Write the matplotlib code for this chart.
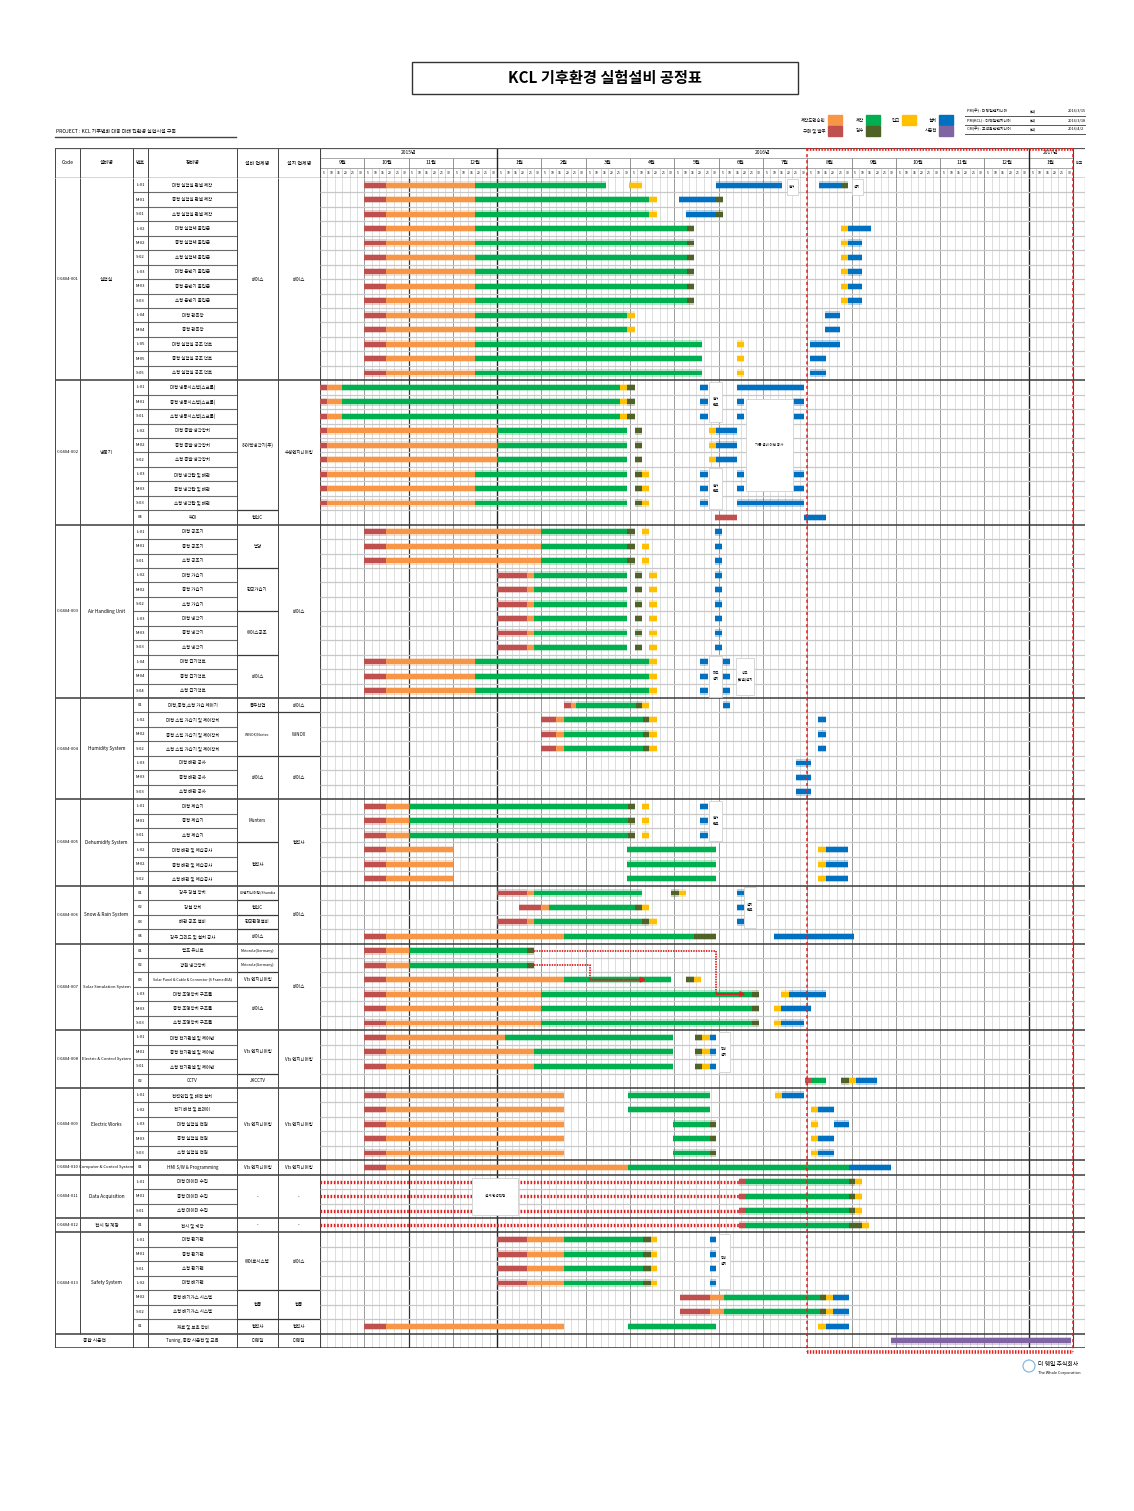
import numpy as np
import matplotlib.pyplot as plt
from matplotlib.patches import Rectangle, Circle

plt.rcParams['font.family'] = ['Noto Sans CJK KR', 'DejaVu Sans']

W, H = 1134, 1511

# 공정 단계 색상
phase_color = {'P': '#c0504d', 'D': '#f79646', 'M': '#00b050', 'I': '#4f6228',
               'R': '#ffc000', 'S': '#0070c0', 'T': '#8064a2'}
legend_labels = [('제작도면승인', 'D'), ('구매 및 발주', 'P'), ('제작', 'M'), ('검수', 'I'),
                 ('입고', 'R'), ('설치', 'S'), ('시운전', 'T')]

# 일정 축 (5일 단위)
years = ['2015년', '2016년', '2017년']
year_months = [4, 12, 1]
months = ['9월', '10월', '11월', '12월', '1월', '2월', '3월', '4월', '5월', '6월', '7월',
          '8월', '9월', '10월', '11월', '12월', '1월']
days = ['5', '10', '15', '20', '25', '30']

# 설비 그룹
group_codes = ['C-0404-001', 'C-0404-002', 'C-0404-003', 'C-0404-004', 'C-0404-005',
               'C-0404-006', 'C-0404-007', 'C-0404-008', 'C-0404-009', 'C-0404-010',
               'C-0404-011', 'C-0404-012', 'C-0404-013', '']
group_names = ['실험실', '냉동기', 'Air Handling Unit', 'Humidity System', 'Dehumidify System',
               'Snow & Rain System', 'Solar Simulation System', 'Electric & Control System',
               'Electric Works', 'Computer & Control System', 'Data Acquisition', '전시 및 계장',
               'Safety System', '종합 시운전']
group_sizes = [14, 10, 12, 7, 6, 4, 6, 4, 5, 1, 3, 1, 7, 1]

row_nos = ['L-01', 'M-01', 'S-01', 'L-02', 'M-02', 'S-02', 'L-03', 'M-03', 'S-03', 'L-04', 'M-04', 'L-05', 'M-05', 'S-05',
           'L-01', 'M-01', 'S-01', 'L-02', 'M-02', 'S-02', 'L-03', 'M-03', 'S-03', '04',
           'L-01', 'M-01', 'S-01', 'L-02', 'M-02', 'S-02', 'L-03', 'M-03', 'S-03', 'L-04', 'M-04', 'S-04',
           '01', 'L-02', 'M-02', 'S-02', 'L-03', 'M-03', 'S-03',
           'L-01', 'M-01', 'S-01', 'L-02', 'M-02', 'S-02',
           '01', '02', '03', '04',
           '01', '02', '03', 'L-03', 'M-03', 'S-03',
           'L-01', 'M-01', 'S-01', '02',
           'L-01', 'L-02', 'L-03', 'M-03', 'S-03',
           '01',
           'L-01', 'M-01', 'S-01',
           '01',
           'L-01', 'M-01', 'S-01', 'L-02', 'M-02', 'S-02', '01',
           '']
row_names = ['대형 실험실 판넬 제작', '중형 실험실 판넬 제작', '소형 실험실 판넬 제작',
             '대형 실험체 출입문', '중형 실험체 출입문', '소형 실험체 출입문',
             '대형 운반기 출입문', '중형 운반기 출입문', '소형 운반기 출입문',
             '대형 관측창', '중형 관측창',
             '대형 실험실 공조 덕트', '중형 실험실 공조 덕트', '소형 실험실 공조 덕트',
             '대형 냉동시스템(스크롤)', '중형 냉동시스템(스크롤)', '소형 냉동시스템(스크롤)',
             '대형 증발 냉각장치', '중형 증발 냉각장치', '소형 증발 냉각장치',
             '대형 냉각탑 및 배관', '중형 냉각탑 및 배관', '소형 냉각탑 및 배관', '부대',
             '대형 공조기', '중형 공조기', '소형 공조기', '대형 가습기', '중형 가습기', '소형 가습기',
             '대형 냉각기', '중형 냉각기', '소형 냉각기', '대형 급기덕트', '중형 급기덕트', '소형 급기덕트',
             '대형,중형,소형 가습 제어기', '대형 스팀 가습기 및 제어장치', '중형 스팀 가습기 및 제어장치',
             '소형 스팀 가습기 및 제어장치', '대형 배관 공사', '중형 배관 공사', '소형 배관 공사',
             '대형 제습기', '중형 제습기', '소형 제습기',
             '대형 배관 및 제습공사', '중형 배관 및 제습공사', '소형 배관 및 제습공사',
             '강우 강설 장치', '강설 장치', '배관 공조 설비', '강우 그리드 및 설치 공사',
             '램프 유니트', '광원 냉각장치', 'Solar Panel & Cable & Connector (6 Frame 4EA)',
             '대형 조명장치 구조물', '중형 조명장치 구조물', '소형 조명장치 구조물',
             '대형 전기판넬 및 제어반', '중형 전기판넬 및 제어반', '소형 전기판넬 및 제어반', 'CCTV',
             '전력인입 및 배전 설치', '전기 배선 및 트레이', '대형 실험실 전원', '중형 실험실 전원', '소형 실험실 전원',
             'HMI S/W & Programming',
             '대형 데이터 수집', '중형 데이터 수집', '소형 데이터 수집',
             '전시 및 계장',
             '대형 환기팬', '중형 환기팬', '소형 환기팬', '대형 배기팬',
             '중형 배기가스 시스템', '소형 배기가스 시스템', '재료 및 보호 장비',
             'Tuning, 종합 시운전 및 교육']

# (시작 행, 행 수, 업체명)
vendor_spans = [(0, 14, '베이스'), (14, 9, '하이텍냉각기(주)'), (23, 1, '협신C'),
                (24, 3, '범양'), (27, 3, '한국가습기'), (30, 3, '에이스공조'), (33, 3, '베이스'),
                (36, 1, '동우산업'), (37, 3, 'WINOX/Nortec'), (40, 3, '베이스'),
                (43, 3, 'Munters'), (46, 3, '협력사'),
                (49, 1, 'LX엔지니어링/Shandia'), (50, 1, '협신C'), (51, 1, '한국환경설비'), (52, 1, '베이스'),
                (53, 1, 'Motorola(Germany)'), (54, 1, 'Motorola(Germany)'), (55, 1, 'Vts 엔지니어링'), (56, 3, '베이스'),
                (59, 3, 'Vts 엔지니어링'), (62, 1, 'JKCCTV'), (63, 5, 'Vts 엔지니어링'), (68, 1, 'Vts 엔지니어링'),
                (69, 3, '-'), (72, 1, '-'), (73, 4, '에어로시스템'), (77, 2, '협동'), (79, 1, '협력사'),
                (80, 1, '더웨일')]
installer_spans = [(0, 14, '베이스'), (14, 10, '수성엔지니어링'), (24, 12, '베이스'),
                   (36, 1, '베이스'), (37, 3, 'WINOX'), (40, 3, '베이스'), (43, 6, '협력사'),
                   (49, 4, '베이스'), (53, 6, '베이스'), (59, 4, 'Vts 엔지니어링'), (63, 5, 'Vts 엔지니어링'),
                   (68, 1, 'Vts 엔지니어링'), (69, 3, '-'), (72, 1, '-'), (73, 4, '베이스'),
                   (77, 2, '협동'), (79, 1, '협력사'), (80, 1, '더웨일')]

# 행별 공정 (시작, 끝, 단계) - 단위: 5일 (2015.9.1 = 0)
segments = [
    [(6, 9, 'P'), (9, 21, 'D'), (21, 38.8, 'M'), (41.8, 43.6, 'R'), (53.6, 62.6, 'S'), (67.6, 70.6, 'S'), (70.6, 71.5, 'I')],
    [(6, 9, 'P'), (9, 21, 'D'), (21, 44.6, 'M'), (44.6, 45.6, 'R'), (48.6, 53.6, 'S'), (53.6, 54.6, 'I')],
    [(6, 9, 'P'), (9, 21, 'D'), (21, 44.6, 'M'), (44.6, 45.6, 'R'), (49.6, 53.6, 'S'), (53.6, 54.6, 'I')],
    [(6, 9, 'P'), (9, 21, 'D'), (21, 49.7, 'M'), (49.7, 50.6, 'I'), (70.6, 71.5, 'R'), (71.5, 74.6, 'S')],
    [(6, 9, 'P'), (9, 21, 'D'), (21, 49.7, 'M'), (49.7, 50.6, 'I'), (70.6, 71.5, 'R'), (71.5, 73.4, 'S')],
    [(6, 9, 'P'), (9, 21, 'D'), (21, 49.7, 'M'), (49.7, 50.6, 'I'), (70.6, 71.5, 'R'), (71.5, 73.4, 'S')],
    [(6, 9, 'P'), (9, 21, 'D'), (21, 49.7, 'M'), (49.7, 50.6, 'I'), (70.6, 71.5, 'R'), (71.5, 73.4, 'S')],
    [(6, 9, 'P'), (9, 21, 'D'), (21, 49.7, 'M'), (49.7, 50.6, 'I'), (70.6, 71.5, 'R'), (71.5, 73.4, 'S')],
    [(6, 9, 'P'), (9, 21, 'D'), (21, 49.7, 'M'), (49.7, 50.6, 'I'), (70.6, 71.5, 'R'), (71.5, 73.4, 'S')],
    [(6, 9, 'P'), (9, 21, 'D'), (21, 41.6, 'M'), (41.6, 42.7, 'R'), (68.4, 70.4, 'S')],
    [(6, 9, 'P'), (9, 21, 'D'), (21, 41.6, 'M'), (41.6, 42.7, 'R'), (68.4, 70.4, 'S')],
    [(6, 9, 'P'), (9, 21, 'D'), (21, 51.7, 'M'), (56.5, 57.5, 'R'), (66.4, 70.4, 'S')],
    [(6, 9, 'P'), (9, 21, 'D'), (21, 51.7, 'M'), (56.5, 57.5, 'R'), (66.4, 68.5, 'S')],
    [(6, 9, 'P'), (9, 21, 'D'), (21, 51.7, 'M'), (56.5, 57.5, 'R'), (66.4, 68.5, 'S')],
    # 냉동기
    [(0, 1, 'P'), (1, 3, 'D'), (3, 40.7, 'M'), (40.7, 41.6, 'R'), (41.6, 42.7, 'I'), (51.5, 52.5, 'S'), (56.5, 65.5, 'S')],
    [(0, 1, 'P'), (1, 3, 'D'), (3, 40.7, 'M'), (40.7, 41.6, 'R'), (41.6, 42.7, 'I'), (51.5, 52.5, 'S'), (56.5, 57.5, 'S'), (64.1, 65.5, 'S')],
    [(0, 1, 'P'), (1, 3, 'D'), (3, 40.7, 'M'), (40.7, 41.6, 'R'), (41.6, 42.7, 'I'), (51.5, 52.5, 'S'), (56.5, 57.5, 'S'), (64.1, 65.5, 'S')],
    [(0, 1, 'P'), (1, 24, 'D'), (24, 41.6, 'M'), (42.7, 43.6, 'I'), (52.7, 53.6, 'R'), (53.6, 56.5, 'S')],
    [(0, 1, 'P'), (1, 24, 'D'), (24, 41.6, 'M'), (42.7, 43.6, 'I'), (52.7, 53.6, 'R'), (53.6, 56.5, 'S')],
    [(0, 1, 'P'), (1, 24, 'D'), (24, 41.6, 'M'), (42.7, 43.6, 'I'), (52.7, 53.6, 'R'), (53.6, 56.5, 'S')],
    [(0, 1, 'P'), (1, 21, 'D'), (21, 41.6, 'M'), (42.7, 43.6, 'I'), (43.6, 44.6, 'R'), (51.5, 52.5, 'S'), (56.5, 57.5, 'S'), (64.1, 65.5, 'S')],
    [(0, 1, 'P'), (1, 21, 'D'), (21, 41.6, 'M'), (42.7, 43.6, 'I'), (43.6, 44.6, 'R'), (51.5, 52.5, 'S'), (56.5, 57.5, 'S'), (64.1, 65.5, 'S')],
    [(0, 1, 'P'), (1, 21, 'D'), (21, 41.6, 'M'), (42.7, 43.6, 'I'), (43.6, 44.6, 'R'), (51.5, 52.5, 'S'), (56.5, 65.5, 'S')],
    [(53.5, 56.5, 'P'), (65.5, 68.5, 'S')],
    # Air Handling Unit
    [(6, 9, 'P'), (9, 30, 'D'), (30, 41.6, 'M'), (41.6, 42.7, 'I'), (43.6, 44.6, 'R'), (53.5, 54.5, 'S')],
    [(6, 9, 'P'), (9, 30, 'D'), (30, 41.6, 'M'), (41.6, 42.7, 'I'), (43.6, 44.6, 'R'), (53.5, 54.5, 'S')],
    [(6, 9, 'P'), (9, 30, 'D'), (30, 41.6, 'M'), (41.6, 42.7, 'I'), (43.6, 44.6, 'R'), (53.5, 54.5, 'S')],
    [(24, 28, 'P'), (28, 29, 'D'), (29, 41.6, 'M'), (42.7, 43.6, 'I'), (44.6, 45.6, 'R'), (53.5, 54.5, 'S')],
    [(24, 28, 'P'), (28, 29, 'D'), (29, 41.6, 'M'), (42.7, 43.6, 'I'), (44.6, 45.6, 'R'), (53.5, 54.5, 'S')],
    [(24, 28, 'P'), (28, 29, 'D'), (29, 41.6, 'M'), (42.7, 43.6, 'I'), (44.6, 45.6, 'R'), (53.5, 54.5, 'S')],
    [(24, 28, 'P'), (28, 29, 'D'), (29, 41.6, 'M'), (42.7, 43.6, 'I'), (44.6, 45.6, 'R'), (53.5, 54.5, 'S')],
    [(24, 28, 'P'), (28, 29, 'D'), (29, 41.6, 'M'), (42.7, 43.6, 'I'), (44.6, 45.6, 'R'), (53.5, 54.5, 'S')],
    [(24, 28, 'P'), (28, 29, 'D'), (29, 41.6, 'M'), (42.7, 43.6, 'I'), (44.6, 45.6, 'R'), (53.5, 54.5, 'S')],
    [(6, 9, 'P'), (9, 21, 'D'), (21, 44.6, 'M'), (44.6, 45.6, 'R'), (51.5, 52.5, 'S'), (54.5, 55.5, 'S')],
    [(6, 9, 'P'), (9, 21, 'D'), (21, 44.6, 'M'), (44.6, 45.6, 'R'), (51.5, 52.5, 'S'), (54.5, 55.5, 'S')],
    [(6, 9, 'P'), (9, 21, 'D'), (21, 44.6, 'M'), (44.6, 45.6, 'R'), (51.5, 52.5, 'S'), (54.5, 55.5, 'S')],
    # Humidity System
    [(33, 34, 'P'), (34, 34.7, 'D'), (34.7, 42.8, 'M'), (42.8, 43.6, 'I'), (43.6, 44.6, 'R'), (54.6, 55.6, 'S')],
    [(30, 32, 'P'), (32, 33, 'D'), (33, 43.7, 'M'), (43.7, 44.6, 'I'), (44.6, 45.6, 'R'), (67.5, 68.5, 'S')],
    [(30, 32, 'P'), (32, 33, 'D'), (33, 43.7, 'M'), (43.7, 44.6, 'I'), (44.6, 45.6, 'R'), (67.5, 68.5, 'S')],
    [(30, 32, 'P'), (32, 33, 'D'), (33, 43.7, 'M'), (43.7, 44.6, 'I'), (44.6, 45.6, 'R'), (67.5, 68.5, 'S')],
    [(64.5, 66.5, 'S')],
    [(64.5, 66.5, 'S')],
    [(64.5, 66.5, 'S')],
    # Dehumidify System
    [(6, 9, 'P'), (9, 12, 'D'), (12, 41.7, 'M'), (41.7, 42.7, 'I'), (43.6, 44.6, 'R'), (51.5, 52.5, 'S')],
    [(6, 9, 'P'), (9, 12, 'D'), (12, 41.7, 'M'), (41.7, 42.7, 'I'), (43.6, 44.6, 'R'), (51.5, 52.5, 'S')],
    [(6, 9, 'P'), (9, 12, 'D'), (12, 41.7, 'M'), (41.7, 42.7, 'I'), (43.6, 44.6, 'R'), (51.5, 52.5, 'S')],
    [(6, 9, 'P'), (9, 18, 'D'), (41.6, 53.6, 'M'), (67.5, 68.5, 'R'), (68.5, 71.5, 'S')],
    [(6, 9, 'P'), (9, 18, 'D'), (41.6, 53.6, 'M'), (67.5, 68.5, 'R'), (68.5, 71.5, 'S')],
    [(6, 9, 'P'), (9, 18, 'D'), (41.6, 53.6, 'M'), (67.5, 68.5, 'R'), (68.5, 71.5, 'S')],
    # Snow & Rain System
    [(24, 28, 'P'), (28, 29, 'D'), (29, 43.6, 'M'), (47.6, 48.6, 'I'), (48.6, 49.6, 'R'), (56.5, 57.5, 'S')],
    [(27, 30, 'P'), (30, 31, 'D'), (31, 42.7, 'M'), (42.7, 43.6, 'I'), (43.6, 44.6, 'R'), (56.5, 57.5, 'S')],
    [(24, 28, 'P'), (28, 29, 'D'), (29, 43.6, 'M'), (43.6, 44.6, 'I'), (44.6, 45.6, 'R'), (56.5, 57.5, 'S')],
    [(6, 9, 'P'), (9, 33, 'D'), (33, 50.6, 'M'), (50.6, 53.6, 'I'), (61.5, 72.4, 'S')],
    # Solar Simulation System
    [(6, 9, 'P'), (9, 12, 'D'), (12, 28, 'M'), (28, 29, 'I')],
    [(6, 9, 'P'), (9, 12, 'D'), (12, 28, 'M'), (28, 29, 'I')],
    [(6, 9, 'P'), (9, 33, 'D'), (33, 47.6, 'M'), (49.6, 50.6, 'I'), (50.6, 51.6, 'R')],
    [(6, 9, 'P'), (9, 30, 'D'), (30, 58.5, 'M'), (58.5, 59.5, 'I'), (62.5, 63.5, 'R'), (63.5, 68.5, 'S')],
    [(6, 9, 'P'), (9, 30, 'D'), (30, 58.5, 'M'), (58.5, 59.5, 'I'), (61.5, 62.5, 'R'), (62.5, 66.5, 'S')],
    [(6, 9, 'P'), (9, 30, 'D'), (30, 58.5, 'M'), (58.5, 59.5, 'I'), (61.5, 62.5, 'R'), (62.5, 65.5, 'S')],
    # Electric & Control System
    [(6, 9, 'P'), (9, 25, 'D'), (25, 47.8, 'M'), (50.8, 51.8, 'I'), (51.8, 52.8, 'R'), (52.8, 53.7, 'S')],
    [(6, 9, 'P'), (9, 29, 'D'), (29, 47.8, 'M'), (50.8, 51.8, 'I'), (51.8, 52.8, 'R'), (52.8, 53.7, 'S')],
    [(6, 9, 'P'), (9, 29, 'D'), (29, 47.8, 'M'), (50.8, 51.8, 'I'), (51.8, 52.8, 'R'), (52.8, 53.7, 'S')],
    [(65.7, 66.5, 'P'), (66.5, 68.6, 'M'), (70.6, 71.6, 'I'), (71.6, 72.6, 'R'), (72.6, 75.5, 'S')],
    # Electric Works
    [(6, 9, 'P'), (9, 33, 'D'), (41.7, 52.8, 'M'), (61.6, 62.6, 'R'), (62.6, 65.6, 'S')],
    [(6, 9, 'P'), (9, 33, 'D'), (41.7, 52.8, 'M'), (66.5, 67.5, 'R'), (67.5, 69.6, 'S')],
    [(6, 9, 'P'), (9, 33, 'D'), (47.8, 52.8, 'M'), (52.8, 53.7, 'I'), (66.5, 67.5, 'R'), (69.6, 71.6, 'S')],
    [(6, 9, 'P'), (9, 33, 'D'), (47.8, 52.8, 'M'), (52.8, 53.7, 'I'), (66.5, 67.5, 'R'), (67.5, 69.6, 'S')],
    [(6, 9, 'P'), (9, 33, 'D'), (47.8, 52.8, 'M'), (52.8, 53.7, 'I'), (66.5, 67.5, 'R'), (67.5, 69.6, 'S')],
    # Computer & Control System
    [(6, 9, 'P'), (9, 41.7, 'D'), (41.7, 71.6, 'M'), (71.6, 77.4, 'S')],
    # Data Acquisition / 전시 및 계장
    [(56.7, 57.6, 'P'), (57.6, 71.6, 'M'), (71.6, 72.5, 'I'), (72.5, 73.4, 'R')],
    [(56.7, 57.6, 'P'), (57.6, 71.6, 'M'), (71.6, 72.5, 'I'), (72.5, 73.4, 'R')],
    [(56.7, 57.6, 'P'), (57.6, 71.6, 'M'), (71.6, 72.5, 'I'), (72.5, 73.4, 'R')],
    [(56.7, 57.6, 'P'), (57.6, 71.6, 'M'), (71.6, 73.4, 'I'), (73.4, 74.4, 'R')],
    # Safety System
    [(24, 28, 'P'), (28, 33, 'D'), (33, 43.8, 'M'), (43.8, 44.8, 'I'), (44.8, 45.7, 'R'), (52.8, 53.7, 'S')],
    [(24, 28, 'P'), (28, 33, 'D'), (33, 43.8, 'M'), (43.8, 44.8, 'I'), (44.8, 45.7, 'R'), (52.8, 53.7, 'S')],
    [(24, 28, 'P'), (28, 33, 'D'), (33, 43.8, 'M'), (43.8, 44.8, 'I'), (44.8, 45.7, 'R'), (52.8, 53.7, 'S')],
    [(24, 28, 'P'), (28, 33, 'D'), (33, 43.8, 'M'), (43.8, 44.8, 'I'), (44.8, 45.7, 'R'), (52.8, 53.7, 'S')],
    [(48.8, 52.8, 'P'), (52.8, 54.7, 'D'), (54.7, 67.7, 'M'), (67.7, 68.5, 'I'), (68.5, 69.5, 'R'), (69.5, 71.6, 'S')],
    [(48.8, 52.8, 'P'), (52.8, 54.7, 'D'), (54.7, 67.7, 'M'), (67.7, 68.5, 'I'), (68.5, 69.5, 'R'), (69.5, 71.6, 'S')],
    [(6, 9, 'P'), (9, 33, 'D'), (41.7, 53.7, 'M'), (67.5, 68.5, 'R'), (68.5, 71.6, 'S')],
    # 종합 시운전
    [(77.4, 101.7, 'T')],
]

# 설계 변경으로 지연된 행 (점선 구간 끝)
delay_rows = [69, 70, 71, 72]
delay_end = 56.7
# 지연 화살표: (출발 행, 출발 위치, 꺾는 위치, 도착 행, 도착 위치)
delay_arrows = [(53, 29, 53.7, 56, 57.7), (54, 29, 36.6, 55, 44.2)]

# 비고 메모 (x 중심, 행 중심, 폭, 높이, 문구)
notes = [(64, 0.6, 1.6, 1.1, '철거'), (72.8, 0.6, 1.6, 1.1, '설치'),
         (53.6, 15.5, 1.8, 2.8, '철거\n완료'), (60.9, 18.5, 6.3, 6.4, '기존 설비 이전 공사'),
         (53.6, 21.5, 1.8, 2.8, '철거\n완료'), (53.6, 34.5, 1.8, 2.8, '하부\n설치'),
         (57.6, 34.5, 2.4, 2.6, '상부\n(판넬)설치'), (53.6, 44.5, 1.8, 2.8, '철거\n완료'),
         (58.3, 50.5, 1.6, 2.8, '설치\n완료'), (54.8, 60.5, 1.5, 2.8, '장비\n설치'),
         (23.7, 70.5, 6.2, 2.6, '설계 변경진행'), (54.8, 75.0, 1.5, 3.8, '장비\n설치')]

sign_rows = [('PM(주) : 더웨일엔지니어', '(인)', '2016/3/15'),
             ('PM(KCL) : 더웨일엔지니어', '(인)', '2016/3/18'),
             ('CM(주) : 고객확인엔지니어', '(인)', '2016/4/2')]

n_rows = sum(group_sizes)
n_slots = len(months) * len(days)
rem = 1.63  # 비고 칸 폭 (슬롯 단위)
red = '#e02020'


def rect(x0, y0, x1, y1):
    return [x0 / W, 1 - y1 / H, (x1 - x0) / W, (y1 - y0) / H]


fig = plt.figure(figsize=(W / 100, H / 100), dpi=100)
over = fig.add_axes([0, 0, 1, 1])
over.set_xlim(0, W)
over.set_ylim(H, 0)
over.axis('off')

gx = fig.add_axes(rect(320, 178, 1085, 1348))
gx.set_xlim(0, n_slots + rem)
gx.set_ylim(n_rows, 0)
gx.axis('off')
hx = fig.add_axes(rect(320, 148, 1085, 178))
hx.set_xlim(0, n_slots + rem)
hx.set_ylim(3, 0)
hx.axis('off')
tx = fig.add_axes(rect(55, 178, 320, 1348))
tx.set_xlim(55, 320)
tx.set_ylim(n_rows, 0)
tx.axis('off')
th = fig.add_axes(rect(55, 148, 320, 178))
th.set_xlim(55, 320)
th.set_ylim(3, 0)
th.axis('off')

# ---- 제목, 프로젝트, 범례, 결재란
over.add_patch(Rectangle((412, 62), 386, 32, fill=False, lw=1.0, ec='#333333'))
over.text(605, 78, 'KCL 기후환경 실험설비 공정표', fontsize=11, fontweight='bold', ha='center', va='center')
over.text(56, 134, 'PROJECT : KCL 기후변화 대응 미래 친환경 실험시설 구축', fontsize=3.6, va='bottom')
over.plot([55, 236], [137, 137], color='#444444', lw=1.0)

leg_pos = [(828, 115), (828, 126), (866, 115), (866, 126), (902, 115), (939, 115), (939, 126)]
for (lab, code), (lx, ly) in zip(legend_labels, leg_pos):
    over.add_patch(Rectangle((lx, ly), 14, 10, color=phase_color[code]))
    over.text(lx - 2, ly + 5, lab, fontsize=3.2, ha='right', va='center')

for i, (a, b, c) in enumerate(sign_rows):
    yy = 111 + i * 9
    over.text(967, yy, a, fontsize=2.8, va='center')
    over.text(1030, yy, b, fontsize=2.8, va='center')
    over.text(1068, yy, c, fontsize=2.8, va='center')
    over.plot([965, 1085], [yy + 4.5, yy + 4.5], color='#555555', lw=0.7)

# ---- 헤더 (일정)
mstart = 0
for y, n in zip(years, year_months):
    hx.text((mstart + n / 2) * 6, 0.5, y, fontsize=3.5, ha='center', va='center')
    mstart += n
for i, m in enumerate(months):
    hx.text(i * 6 + 3, 1.5, m, fontsize=3.8, ha='center', va='center')
    for j, d in enumerate(days):
        hx.text(i * 6 + j + 0.5, 2.5, d, fontsize=2.4, ha='center', va='center')
hx.hlines([1, 2], 0, n_slots, color='#9a9a9a', lw=0.6)
hx.vlines(np.arange(n_slots), 2, 3, color='#b5b5b5', lw=0.4)
hx.vlines(np.arange(0, n_slots, 6), 1, 3, color='#808080', lw=0.6)
ys = np.cumsum([0] + year_months)[1:-1] * 6
hx.vlines(ys, 0, 3, color='#222222', lw=1.0)
hx.vlines([0, n_slots], 0, 3, color='#444444', lw=0.8)
hx.text(n_slots + rem / 2, 1.5, '비고', fontsize=2.8, ha='center', va='center')
hx.hlines(0, 0, n_slots + rem, color='#555555', lw=1.6)
hx.hlines(3, 0, n_slots + rem, color='#333333', lw=1.0)

# ---- 헤더 (표)
cols = [55, 80, 133, 148, 237, 278, 320]
col_titles = ['Code', '설비명', '번호', '장비명', '설비 업체명', '설치 업체명']
for k, t in enumerate(col_titles):
    th.text((cols[k] + cols[k + 1]) / 2, 1.5, t, fontsize=3.6, ha='center', va='center')
th.vlines(cols, 0, 3, color='#444444', lw=0.7)
th.hlines(0, 55, 320, color='#555555', lw=1.6)
th.hlines(3, 55, 320, color='#333333', lw=1.0)

# ---- 간트 격자
for s in range(n_slots + 1):
    if s in ys:
        gx.vlines(s, 0, n_rows, color='#222222', lw=1.0, zorder=1)
    elif s == 12:
        gx.vlines(s, 0, n_rows, color='#333333', lw=0.9, zorder=1)
    elif s % 6 == 0:
        gx.vlines(s, 0, n_rows, color='#8a8a8a', lw=0.6, zorder=1)
    else:
        gx.vlines(s, 0, n_rows, color='#c4c4c4', lw=0.4, zorder=1)
gx.vlines([0, n_slots], 0, n_rows, color='#444444', lw=0.8, zorder=1)
gx.vlines(n_slots + rem, 0, n_rows, color='#444444', lw=0.8, zorder=1)

bounds = np.cumsum([0] + group_sizes)
for r in range(1, n_rows):
    if r in bounds:
        continue
    gx.hlines(r, 0, n_slots + rem, color='#c8c8c8', lw=0.9, zorder=1)
    tx.hlines(r, 133, 237, color='#6a6a6a', lw=0.8)
for r in bounds[1:-1]:
    gx.hlines(r, 0, n_slots + rem, color='#3a3a3a', lw=1.1, zorder=2)
    tx.hlines(r, 55, 320, color='#3a3a3a', lw=1.1)
gx.hlines(n_rows, 0, n_slots + rem, color='#333333', lw=1.1, zorder=2)
tx.hlines(n_rows, 55, 320, color='#333333', lw=1.1)

# ---- 표 내용
tx.vlines([55, 133, 148, 237, 278, 320], 0, n_rows, color='#444444', lw=0.7)
tx.vlines(80, 0, n_rows - 1, color='#444444', lw=0.7)
for g, (code, name, n) in enumerate(zip(group_codes, group_names, group_sizes)):
    yc = bounds[g] + n / 2
    if code:
        tx.text(67.5, yc, code, fontsize=3.0, ha='center', va='center')
        tx.text(106.5, yc, name, fontsize=3.0 if len(name) > 20 else 3.4, ha='center', va='center')
    else:
        tx.text(94, yc, name, fontsize=3.4, ha='center', va='center')
for r, (no, nm) in enumerate(zip(row_nos, row_names)):
    tx.text(140.5, r + 0.5, no, fontsize=3.0, ha='center', va='center')
    tx.text(192.5, r + 0.5, nm, fontsize=2.6 if len(nm) > 22 else 3.2, ha='center', va='center')
for spans, x0, x1 in [(vendor_spans, 237, 278), (installer_spans, 278, 320)]:
    for start, n, t in spans:
        tx.text((x0 + x1) / 2, start + n / 2, t, fontsize=2.6 if len(t) > 9 else 3.2,
                ha='center', va='center')
        if start > 0 and start not in bounds:
            tx.hlines(start, x0, x1, color='#3a3a3a', lw=0.9)

# ---- 공정 막대
for r, segs in enumerate(segments):
    for s0, s1, code in segs:
        gx.barh(r + 0.5, s1 - s0, left=s0, height=0.52, color=phase_color[code], alpha=0.3,
                lw=0, zorder=3)
        gx.barh(r + 0.5, s1 - s0, left=s0, height=0.34, color=phase_color[code], lw=0, zorder=4)

for r in delay_rows:
    gx.hlines(r + 0.5, 0, delay_end, color=red, lw=2.4, linestyles=(0, (0.5, 0.5)), zorder=4)
for r0, x0, xb, r1, x1 in delay_arrows:
    gx.plot([x0, xb, xb], [r0 + 0.5, r0 + 0.5, r1 + 0.5], color=red, lw=1.3,
            ls=(0, (0.8, 0.6)), zorder=5)
    gx.annotate('', xy=(x1, r1 + 0.5), xytext=(xb, r1 + 0.5), zorder=5,
                arrowprops=dict(arrowstyle='-|>', color=red, lw=1.3, ls=(0, (0.8, 0.6)),
                                mutation_scale=7, shrinkA=0, shrinkB=0))

for xc, yc, w, h, t in notes:
    gx.add_patch(Rectangle((xc - w / 2, yc - h / 2), w, h, facecolor='white',
                           edgecolor='#d0d0d0', lw=0.6, zorder=6))
    gx.text(xc, yc, t, fontsize=2.5, ha='center', va='center', zorder=7, linespacing=1.6)

# ---- 계획 변경 구간 (적색 점선 박스)
hx.vlines([66, n_slots], 0, 3, color=red, lw=1.1, linestyles=(0, (2, 2)), zorder=5)
hx.hlines(0.05, 66, n_slots, color=red, lw=2.6, linestyles=(0, (0.4, 0.4)), zorder=5)
gx.vlines([66, n_slots], 0, n_rows + 0.25, color=red, lw=1.1, linestyles=(0, (2, 2)),
          zorder=5, clip_on=False)
gx.hlines(n_rows + 0.25, 66, n_slots, color=red, lw=2.6, linestyles=(0, (0.4, 0.4)),
          zorder=5, clip_on=False)

# ---- 로고
over.add_patch(Circle((1029, 1366), 6, fill=False, ec='#7fb2d9', lw=0.8))
over.text(1038, 1364, '더 웨일 주식회사', fontsize=4.2, va='center')
over.text(1038, 1373, 'The Whale Corporation', fontsize=2.8, va='center')

fig.savefig('out.png', dpi=100, facecolor='white')
